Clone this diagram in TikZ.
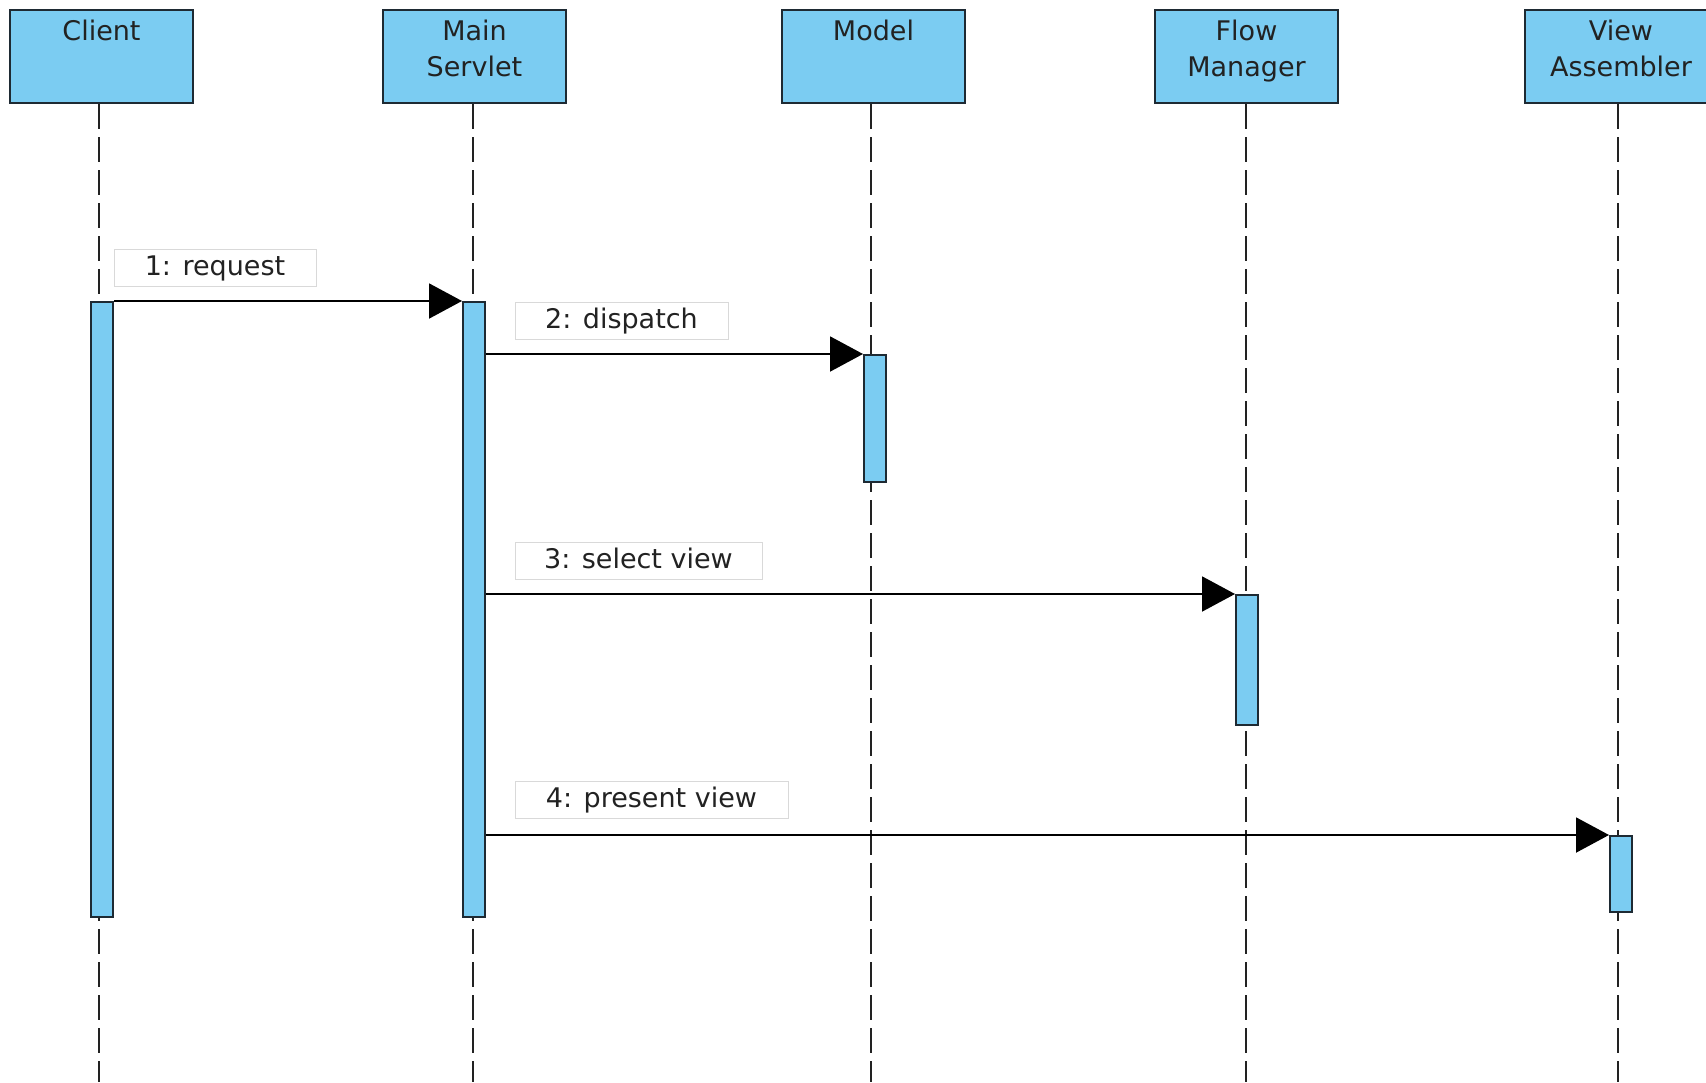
\documentclass[tikz,border=0pt]{standalone}
\usepackage{fontspec}
\setmainfont{DejaVu Sans}
\usetikzlibrary{arrows.meta}
\definecolor{lifeblue}{HTML}{7BCCF2}
\definecolor{edgedark}{HTML}{1E2A33}
\definecolor{lblgray}{HTML}{D9D9D9}
\definecolor{txtdark}{HTML}{222222}
\begin{document}
\begin{tikzpicture}[x=1pt,y=-1pt,
 headbox/.style={draw=edgedark, fill=lifeblue, line width=2pt, minimum width=183pt, minimum height=93pt, inner sep=0pt},
 headtext/.style={anchor=north, inner sep=0pt, align=center, font=\fontsize{27}{36}\selectfont, text=txtdark},
 lifeline/.style={draw=txtdark, line width=2pt, dash pattern=on 25pt off 8pt},
 actbar/.style={draw=edgedark, fill=lifeblue, line width=2pt, minimum width=22pt, inner sep=0pt},
 msg/.style={draw=black, line width=2pt, -{Triangle[length=33pt,width=35pt]}},
 msglabel/.style={draw=lblgray, fill=white, line width=1pt, minimum height=37pt, inner sep=0pt, font=\fontsize{27}{32}\selectfont, text=txtdark}]
\useasboundingbox (0,0) rectangle (1706,1082);
\clip (0,0) rectangle (1706,1082);
\fill[white] (0,0) rectangle (1706,1082);

% header boxes
\node[headbox] (client) at (101.5,56.5) {};
\node[headtext] (clientlbl) at (101.5,20) {Client};
\node[headbox] (main) at (474.5,56.5) {};
\node[headtext] (mainlbl) at (474.5,20) {Main\\Servlet};
\node[headbox] (model) at (873.5,56.5) {};
\node[headtext] (modellbl) at (873.5,20) {Model};
\node[headbox] (flow) at (1246.5,56.5) {};
\node[headtext] (flowlbl) at (1246.5,20) {Flow\\Manager};
\node[headbox] (view) at (1616,56.5) {};
\node[headtext] (viewlbl) at (1621,20) {View\\Assembler};

% lifelines
\coordinate (clientend) at (99,1082);
\coordinate (mainend) at (473,1082);
\coordinate (modelend) at (871,1082);
\coordinate (flowend) at (1246,1082);
\coordinate (viewend) at (1618,1082);
\draw[lifeline] (client.south -| clientend) -- (clientend);
\draw[lifeline] (main.south -| mainend) -- (mainend);
\draw[lifeline] (model.south -| modelend) -- (modelend);
\draw[lifeline] (flow.south -| flowend) -- (flowend);
\draw[lifeline] (view.south -| viewend) -- (viewend);

% activation bars
\node[actbar, minimum height=615pt] (cbar) at (102,609.5) {};
\node[actbar, minimum height=615pt] (mbar) at (474,609.5) {};
\node[actbar, minimum height=127pt] (mdbar) at (875,418.5) {};
\node[actbar, minimum height=130pt] (fbar) at (1247,660) {};
\node[actbar, minimum height=76pt] (vbar) at (1621,874) {};

% messages
\draw[msg] (cbar.north east) -- (mbar.north west);
\draw[msg] (mbar.east |- mdbar.north) -- (mdbar.north west);
\draw[msg] (mbar.east |- fbar.north) -- (fbar.north west);
\draw[msg] (mbar.east |- vbar.north) -- (vbar.north west);

% labels
\node[msglabel, minimum width=202pt, text depth=4pt] (l1) at (215,267.5) {1: request};
\node[msglabel, minimum width=213pt, text depth=4pt] (l2) at (621.5,320.5) {2: dispatch};
\node[msglabel, minimum width=247pt, text depth=4pt] (l3) at (638.5,560.5) {3: select view};
\node[msglabel, minimum width=273pt, text depth=4pt] (l4) at (651.5,799.5) {4: present view};
\end{tikzpicture}
\end{document}
